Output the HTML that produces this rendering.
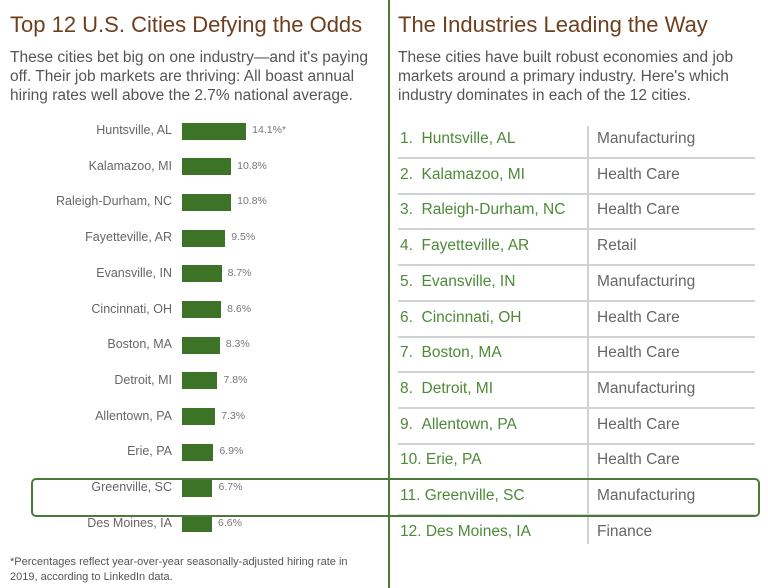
<!DOCTYPE html>
<html><head><meta charset="utf-8"><style>
body{margin:0;width:768px;height:588px;background:#fff;position:relative;overflow:hidden;font-family:"Liberation Sans",sans-serif;}
.a{position:absolute;white-space:nowrap;}
.t{font-size:22px;color:#6e3f1f;top:12px;}
.s{font-size:15.5px;color:#555;line-height:19px;top:48px;}
.lab{font-size:12.5px;color:#666;right:596px;text-align:right;}
.bar{background:#3c7326;height:17px;left:182px;}
.pct{font-size:10.5px;color:#777;}
.num{font-size:15.5px;color:#4d8a38;left:400px;}
.ind{font-size:15.5px;color:#666;left:597px;}
.hl{border-top:2px solid #cfd3d8;left:398px;width:357px;height:0;}
</style></head><body>
<div class="a" style="left:388px;top:0;width:2px;height:588px;background:#4a7a3a"></div>
<div class="a t" style="left:10px">Top 12 U.S. Cities Defying the Odds</div>
<div class="a s" style="left:10px">These cities bet big on one industry—and it's paying<br>off. Their job markets are thriving: All boast annual<br>hiring rates well above the 2.7% national average.</div>
<div class="a t" style="left:398px">The Industries Leading the Way</div>
<div class="a s" style="left:398px">These cities have built robust economies and job<br>markets around a primary industry. Here's which<br>industry dominates in each of the 12 cities.</div>
<div class="a" style="left:587px;top:126px;width:2px;height:418px;background:#cfd3d8"></div>
<div id="rows"></div>
<div class="a" style="left:31px;top:478px;width:725px;height:35px;border:2px solid #4a7a3a;border-radius:5px"></div>
<div class="a" style="left:10px;top:555px;font-size:11px;color:#555;line-height:15px">*Percentages reflect year-over-year seasonally-adjusted hiring rate in<br>2019, according to LinkedIn data.</div>
<script>
var d=[["Huntsville, AL",14.1,"Manufacturing","14.1%*"],["Kalamazoo, MI",10.8,"Health Care"],["Raleigh-Durham, NC",10.8,"Health Care"],["Fayetteville, AR",9.5,"Retail"],["Evansville, IN",8.7,"Manufacturing"],["Cincinnati, OH",8.6,"Health Care"],["Boston, MA",8.3,"Health Care"],["Detroit, MI",7.8,"Manufacturing"],["Allentown, PA",7.3,"Health Care"],["Erie, PA",6.9,"Health Care"],["Greenville, SC",6.7,"Manufacturing"],["Des Moines, IA",6.6,"Finance"]];
var h="";
d.forEach(function(r,i){var y=131+i*35.7;var w=r[1]*4.55;
h+='<div class="a lab" style="top:'+(y-8)+'px">'+r[0]+'</div>';
h+='<div class="a bar" style="top:'+(y-8.5)+'px;width:'+w+'px"></div>';
h+='<div class="a pct" style="top:'+(y-7)+'px;left:'+(188+w)+'px">'+(r[3]||r[1].toFixed(1)+'%')+'</div>';
var n=(i+1)+'.'+(i<9?'&nbsp;&nbsp;':' ');
h+='<div class="a num" style="top:'+(y+9-10)+'px">'+n+r[0]+'</div>';
h+='<div class="a ind" style="top:'+(y+9-10)+'px">'+r[2]+'</div>';
if(i<11)h+='<div class="a hl" style="top:'+(y+26)+'px"></div>';
});
document.getElementById("rows").innerHTML=h;
</script>
</body></html>
